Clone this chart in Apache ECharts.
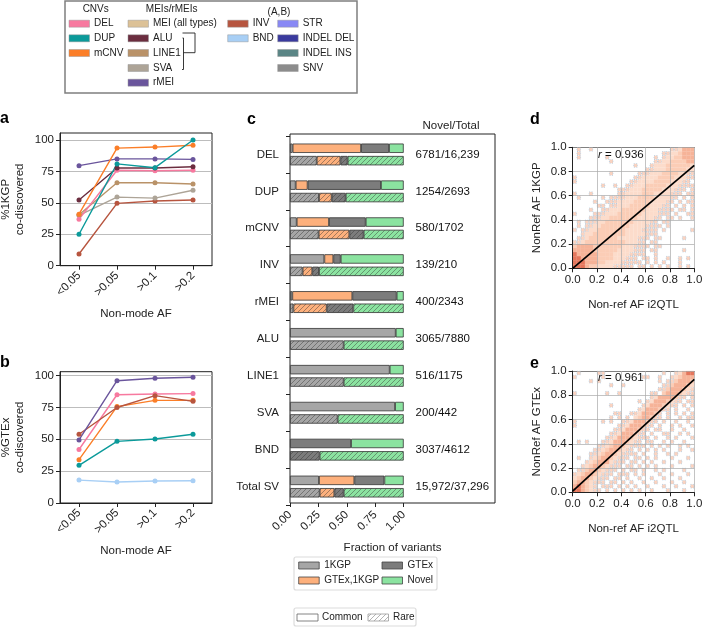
<!DOCTYPE html>
<html>
<head>
<meta charset="utf-8">
<style>
  html, body { margin: 0; padding: 0; background: #fff; }
  #chart { width: 702px; height: 627px; }
</style>
<script src="https://cdn.jsdelivr.net/npm/echarts@6/dist/echarts.min.js"></script>
</head>
<body>
<div id="chart"></div>
<script>
// panels a and b
var afBins = ['<0.05', '>0.05', '>0.1', '>0.2'];
var kgpDEL = [37, 76, 75.5, 76];
var kgpDUP = [25, 81, 78, 100];
var kgpCNV = [41, 93.6, 94.4, 95.8];
var kgpINV = [9.3, 49.6, 51.5, 52.3];
var kgpALU = [52.3, 77.7, 77.7, 78.8];
var kgpLINE1 = [40.5, 66, 66, 65];
var kgpSVA = [40, 54.6, 53.8, 60];
var kgpRMEI = [79.6, 85, 85, 84.6];
var gtexDEL = [42, 85, 85.6, 85.9];
var gtexDUP = [29.6, 48.4, 50.3, 54];
var gtexCNV = [34, 75.7, 80.6, 80.6];
var gtexINV = [54, 75, 84.3, 79.8];
var gtexRMEI = [49.5, 96, 98, 98.7];
var gtexBND = [18, 16.5, 17.3, 17.5];

// panel c
var svTypes = ['DEL', 'DUP', 'mCNV', 'INV', 'rMEI', 'ALU', 'LINE1', 'SVA', 'BND', 'Total SV'];
var novelTotal = ['6781/16,239', '1254/2693', '580/1702', '139/210', '400/2343', '3065/7880', '516/1175', '200/442', '3037/4612', '15,972/37,296'];
var commonKGP = [.023, .05, .059, .302, .02, .93, .877, .924, 0, .255];
var commonBoth = [.602, .105, .284, .079, .528, 0, 0, 0, 0, .311];
var commonGTEx = [.246, .645, .323, .065, .39, 0, 0, 0, .537, .264];
var commonNovel = [.129, .2, .334, .554, .062, .07, .123, .076, .463, .17];
var rareKGP = [.235, .255, .252, .111, .03, .472, .472, .419, 0, .261];
var rareBoth = [.208, .112, .27, .085, .293, 0, 0, 0, 0, .129];
var rareGTEx = [.064, .123, .126, .059, .234, 0, 0, 0, .261, .082];
var rareNovel = [.493, .51, .352, .745, .443, .528, .528, .581, .739, .528];

// panels d and e, density, top row is AF 1.0
var densityD = [
  '010010000000000000000000112444',
  '010000000000000000000011223444',
  '010000001000000000001012233444',
  '000000000100000000001122333344',
  '000000000000000100012223333332',
  '000000000000000000112223333322',
  '000000000100000011122233332211',
  '100000000000000112222333322211',
  '100000000000001122223333222110',
  '000000010010011222333332221111',
  '000000000001112223333322211101',
  '100010000001122223332222111011',
  '010000010111122233332222110101',
  '000001001112222333322221101011',
  '000000110112223333322211010101',
  '000010011222333333222111101101',
  '100001112223333332222111010011',
  '000011122333333322221101101001',
  '010111223333333222211011000000',
  '010112233333332222111101000000',
  '101122333333322221111010000001',
  '001223333333322222111000000000',
  '011233333332222211101100000100',
  '112333333333322211011000000000',
  '344443333333222111101100000000',
  '444443333332222111011000000100',
  '544444333322221111001000000000',
  '554444333322211101101001001010',
  '555444332222111110101010001000',
  '555433222211111011010101001010'
];
var densityE = [
  '010000110000000000000010012455',
  '100000010000000001100100123444',
  '000010100000000000000101134443',
  '000000000100100000000011344432',
  '000000000000000000000113444321',
  '100000001001000000011034443211',
  '000000000000000000012444431101',
  '000000000000000010124443211011',
  '000000000100000001244432110101',
  '000000000000000012444311010010',
  '000000000011001124443101010101',
  '000000000101010234431101001011',
  '100000010100112444311010010010',
  '100000000001124443110100101001',
  '000000000011244431101100100100',
  '000000000112444311010011001010',
  '000000001124443211101001010001',
  '010100011244432110110010100100',
  '000000112344321111010101001010',
  '000001123443211010101010001001',
  '000011234432111101001001010000',
  '010012344321110110101000100010',
  '000123444211101101010010001000',
  '001234432111011010101000100001',
  '011344321110101101001010000100',
  '123443211101110101000100100010',
  '234432111011010010010010001000',
  '344321110110101001001000100100',
  '454321011101010100100010010001',
  '554321101010101010010001000100'
];
var fitD = [[0, 0], [1, .85]];
var fitE = [[0, .01], [1, .93]];

var font = 'Liberation Sans';
var ink = '#222';
var colors = {
  DEL: '#f7799f', DUP: '#0b9a9a', mCNV: '#fb7e28', MEI: '#dcc196', ALU: '#6b2d3f',
  LINE1: '#b99268', SVA: '#ada497', rMEI: '#6a559c', INV: '#b7553f', BND: '#a8cff5',
  STR: '#8888f5', 'INDEL DEL': '#3a3a9e', 'INDEL INS': '#5a8585', SNV: '#8c8c8c'
};
var kgpColor = '#a6a6a6', bothColor = '#fdb07c', gtexColor = '#7c7c7c', novelColor = '#8be3a0';
var densityColors = [null, '#fbd3c0', '#fcdccb', '#fbcdb6', '#f6b398', '#e4765c'];

function hatch(base) {
  var c = document.createElement('canvas');
  c.width = 5; c.height = 5;
  var g = c.getContext('2d');
  if (base) { g.fillStyle = base; g.fillRect(0, 0, 5, 5); }
  g.strokeStyle = base ? 'rgba(50,50,50,0.55)' : 'rgba(120,120,120,0.7)';
  g.lineWidth = 0.8;
  g.beginPath();
  g.moveTo(-1, 1); g.lineTo(1, -1);
  g.moveTo(-1, 6); g.lineTo(6, -1);
  g.moveTo(4, 6); g.lineTo(6, 4);
  g.stroke();
  return { image: c, repeat: 'repeat' };
}

function lineSeries(name, data, idx) {
  return {
    name: name, type: 'line', data: data, xAxisIndex: idx, yAxisIndex: idx,
    symbol: 'circle', symbolSize: 5, silent: true,
    lineStyle: { width: 1.4, color: colors[name] },
    itemStyle: { color: colors[name] }
  };
}

function barSeries(name, data, stack, fill) {
  return {
    name: name, type: 'bar', stack: stack, xAxisIndex: 3, yAxisIndex: 3,
    barWidth: 9.4, barGap: '32%', silent: true,
    data: data.map(function (v) { return v === 0 ? null : v; }),
    itemStyle: { color: fill, borderColor: '#333', borderWidth: 0.8 }
  };
}

function heatSeries(rows, level, idx) {
  var pts = [];
  rows.forEach(function (row, r) {
    for (var c = 0; c < row.length; c++) {
      if (+row[c] === level) pts.push([(c + .5) / row.length, (rows.length - r - .5) / rows.length]);
    }
  });
  var sparse = level === 1;
  return {
    type: 'scatter', data: pts, xAxisIndex: idx, yAxisIndex: idx, symbol: 'rect', symbolSize: sparse ? 3.6 : 4.2,
    silent: true, z: 2, clip: true,
    itemStyle: {
      color: densityColors[level], opacity: 1,
      borderColor: sparse ? '#8fc3e6' : 'transparent', borderWidth: sparse ? 0.6 : 0, borderType: [1, 1.4]
    }
  };
}

function fitSeries(data, idx) {
  return {
    type: 'line', data: data, xAxisIndex: idx, yAxisIndex: idx, symbol: 'none', z: 6, silent: true,
    lineStyle: { color: '#000', width: 1.7 }
  };
}

var axisText = { fontFamily: font, fontSize: 11.5, color: ink };
var frameLine = { show: true, lineStyle: { color: '#222', width: 1 } };
var tickOut = { show: true, length: 4, lineStyle: { color: '#222', width: 1 } };

function afAxisX(idx) {
  return {
    type: 'category', gridIndex: idx, data: afBins, name: 'Non-mode AF', nameLocation: 'middle', nameGap: 42,
    nameTextStyle: axisText, axisLine: frameLine, axisTick: Object.assign({ alignWithLabel: true }, tickOut),
    axisLabel: Object.assign({ rotate: 45, margin: 8 }, axisText), splitLine: { show: false }
  };
}
function afAxisY(idx, name, top) {
  return {
    type: 'value', gridIndex: idx, min: 0, max: top, interval: 25, name: name, nameLocation: 'middle',
    nameRotate: 90, nameGap: 33, nameTextStyle: Object.assign({ lineHeight: 14 }, axisText),
    axisLine: frameLine, axisTick: tickOut,
    axisLabel: Object.assign({ showMaxLabel: false, margin: 6 }, axisText),
    splitLine: { show: true, showMaxLine: false, lineStyle: { color: '#bdbdbd', width: 1 } }
  };
}
function afAxisUnit(idx, name, kind) {
  var base = {
    type: 'value', gridIndex: idx, min: 0, max: 1, interval: .2, z: 3,
    axisLine: frameLine, axisTick: tickOut,
    axisLabel: Object.assign({ margin: 6, formatter: function (v) { return v.toFixed(1); } }, axisText),
    splitLine: { show: true, lineStyle: { color: 'rgba(170,170,170,0.7)', width: 1 } },
    name: name, nameLocation: 'middle', nameTextStyle: axisText, nameGap: kind === 'x' ? 31 : 30
  };
  if (kind === 'y') base.nameRotate = 90;
  return base;
}

var grids = [
  { left: 60, top: 133, width: 152, height: 132.7, show: true, borderColor: '#222', borderWidth: 1 },
  { left: 60, top: 371.7, width: 152, height: 131.3, show: true, borderColor: '#222', borderWidth: 1 },
  { left: 290, top: 134, width: 205, height: 369, show: true, borderColor: '#222', borderWidth: 1 },
  { left: 290, top: 136, width: 205, height: 369 },
  { left: 572.7, top: 147.3, width: 121.6, height: 121 },
  { left: 572.7, top: 371, width: 121.6, height: 121.3 }
].map(function (g) { return Object.assign({ outerBoundsMode: 'none' }, g); });

var xAxes = [
  afAxisX(0), afAxisX(1),
  { type: 'value', gridIndex: 2, show: false, min: 0, max: 1 },
  {
    type: 'value', gridIndex: 3, min: 0, max: 1.803, offset: -2,
    name: 'Fraction of variants', nameLocation: 'middle', nameTextStyle: axisText, nameGap: 39,
    nameMoveOverlap: false,
    axisLine: { show: false },
    axisTick: Object.assign({ customValues: [0, .25, .5, .75, 1] }, tickOut),
    axisLabel: Object.assign({
      rotate: 45, margin: 10, customValues: [0, .25, .5, .75, 1],
      formatter: function (v) { return v.toFixed(2); }
    }, axisText),
    splitLine: { show: false }
  },
  afAxisUnit(4, 'Non-ref AF i2QTL', 'x'),
  afAxisUnit(5, 'Non-ref AF i2QTL', 'x'),
  { type: 'value', gridIndex: 4, position: 'top', min: 0, max: 1, axisLine: frameLine, axisTick: { show: false }, axisLabel: { show: false }, splitLine: { show: false } },
  { type: 'value', gridIndex: 5, position: 'top', min: 0, max: 1, axisLine: frameLine, axisTick: { show: false }, axisLabel: { show: false }, splitLine: { show: false } }
];
var yAxes = [
  afAxisY(0, '%1KGP\nco-discovered', 105.6),
  afAxisY(1, '%GTEx\nco-discovered', 103.1),
  { type: 'value', gridIndex: 2, show: false, min: 0, max: 1 },
  {
    type: 'category', gridIndex: 3, data: svTypes, inverse: true,
    axisLine: { show: false }, axisTick: tickOut,
    axisLabel: Object.assign({ margin: 11 }, axisText), splitLine: { show: false }
  },
  afAxisUnit(4, 'NonRef AF 1KGP', 'y'),
  afAxisUnit(5, 'NonRef AF GTEx', 'y')
];

var series = [
  lineSeries('INV', kgpINV, 0), lineSeries('SVA', kgpSVA, 0), lineSeries('LINE1', kgpLINE1, 0),
  lineSeries('DEL', kgpDEL, 0), lineSeries('ALU', kgpALU, 0), lineSeries('rMEI', kgpRMEI, 0),
  lineSeries('mCNV', kgpCNV, 0), lineSeries('DUP', kgpDUP, 0),
  lineSeries('BND', gtexBND, 1), lineSeries('DUP', gtexDUP, 1), lineSeries('DEL', gtexDEL, 1),
  lineSeries('mCNV', gtexCNV, 1), lineSeries('INV', gtexINV, 1), lineSeries('rMEI', gtexRMEI, 1),
  barSeries('1KGP', commonKGP, 'common', kgpColor),
  barSeries('GTEx,1KGP', commonBoth, 'common', bothColor),
  barSeries('GTEx', commonGTEx, 'common', gtexColor),
  barSeries('Novel', commonNovel, 'common', novelColor),
  barSeries('1KGP rare', rareKGP, 'rare', hatch(kgpColor)),
  barSeries('GTEx,1KGP rare', rareBoth, 'rare', hatch(bothColor)),
  barSeries('GTEx rare', rareGTEx, 'rare', hatch(gtexColor)),
  barSeries('Novel rare', rareNovel, 'rare', hatch(novelColor)),
  {
    type: 'scatter', xAxisIndex: 3, yAxisIndex: 3, symbolSize: 1, silent: true,
    itemStyle: { color: 'transparent' },
    data: novelTotal.map(function (t, i) { return { value: [1.1, i], label: { formatter: t } }; }),
    label: { show: true, position: 'right', distance: 0, fontFamily: font, fontSize: 11.5, color: '#111', opacity: 1 }
  }
];
[1, 2, 3, 4, 5].forEach(function (lv) { series.push(heatSeries(densityD, lv, 4)); });
[1, 2, 3, 4, 5].forEach(function (lv) { series.push(heatSeries(densityE, lv, 5)); });
series.push(fitSeries(fitD, 4), fitSeries(fitE, 5));

// legends and panel letters
var g = [];
function txt(t, x, y, opt) {
  g.push({
    type: 'text', x: x, y: y, silent: true, z: 20,
    style: Object.assign({ text: t, font: '10px "' + font + '"', fill: ink, textVerticalAlign: 'middle' }, opt || {})
  });
}
function box(x, y, w, h, stroke, lw, r) {
  g.push({ type: 'rect', shape: { x: x, y: y, width: w, height: h, r: r || 0 }, silent: true, z: 19, style: { fill: '#fff', stroke: stroke, lineWidth: lw } });
}
function swatch(x, y, w, h, fill, stroke) {
  g.push({ type: 'rect', shape: { x: x, y: y, width: w, height: h }, silent: true, z: 20, style: { fill: fill, stroke: stroke, lineWidth: 0.8 } });
}

box(65, 1, 292, 92, '#7f7f7f', 1.5);
txt('CNVs', 95.7, 9, { textAlign: 'center' });
txt('MEIs/rMEIs', 171.7, 9, { textAlign: 'center' });
txt('(A,B)', 279, 12, { textAlign: 'center' });
var rowY = [23.7, 38.3, 53, 68, 82.7];
[[69, ['DEL', 'DUP', 'mCNV']], [128, ['MEI', 'ALU', 'LINE1', 'SVA', 'rMEI']], [227.7, ['INV', 'BND']], [277.7, ['STR', 'INDEL DEL', 'INDEL INS', 'SNV']]].forEach(function (col) {
  col[1].forEach(function (name, i) {
    swatch(col[0], rowY[i] - 3.5, 20.5, 7, colors[name], 'rgba(150,150,150,0.6)');
    txt(name === 'MEI' ? 'MEI (all types)' : name, col[0] + 25, rowY[i]);
  });
});
g.push({ type: 'polyline', silent: true, z: 20, shape: { points: [[182.5, 38], [183.5, 38], [183.5, 69.5], [182, 69.5]] }, style: { stroke: '#222', lineWidth: 0.9, fill: null } });
g.push({ type: 'polyline', silent: true, z: 20, shape: { points: [[182.5, 33], [195, 33], [195, 52.7], [183.5, 52.7]] }, style: { stroke: '#222', lineWidth: 0.9, fill: null } });

box(294, 557, 143, 33, '#dcdcdc', 1.2, 2);
[[298.7, 562, kgpColor, '1KGP'], [298.7, 577, bothColor, 'GTEx,1KGP'], [382, 562, gtexColor, 'GTEx'], [382, 577, novelColor, 'Novel']].forEach(function (e) {
  swatch(e[0], e[1], 20.5, 7, e[2], '#444');
  txt(e[3], e[0] + 25.5, e[1] + 3.5);
});
box(294, 608, 122, 18, '#dcdcdc', 1.2, 2);
swatch(297, 614, 21, 7, '#fff', '#666');
txt('Common', 322, 617.5);
swatch(368, 614, 20.5, 7, hatch(null), '#999');
txt('Rare', 393, 617.5);

txt('Novel/Total', 451, 126, { textAlign: 'center', font: '11.5px "' + font + '"' });
[['a', 0, 119], ['b', 0, 363], ['c', 247, 120], ['d', 530, 120], ['e', 530, 364]].forEach(function (l) {
  txt(l[0], l[1], l[2], { font: 'bold 16px "' + font + '"', fill: '#000' });
});
[['0.936', 155], ['0.961', 378]].forEach(function (r) {
  g.push({
    type: 'text', x: 598, y: r[1], silent: true, z: 20,
    style: {
      text: '{i|r} = ' + r[0], textVerticalAlign: 'middle', fill: '#111',
      font: '11.5px "' + font + '"',
      rich: { i: { fontStyle: 'italic', fontFamily: font, fontSize: 11.5, fill: '#111' } }
    }
  });
});

var chart = echarts.init(document.getElementById('chart'), null, { renderer: 'canvas' });
chart.setOption({
  animation: false,
  backgroundColor: '#fff',
  textStyle: { fontFamily: font },
  grid: grids, xAxis: xAxes, yAxis: yAxes, series: series,
  graphic: { elements: g }
});
</script>
</body>
</html>
